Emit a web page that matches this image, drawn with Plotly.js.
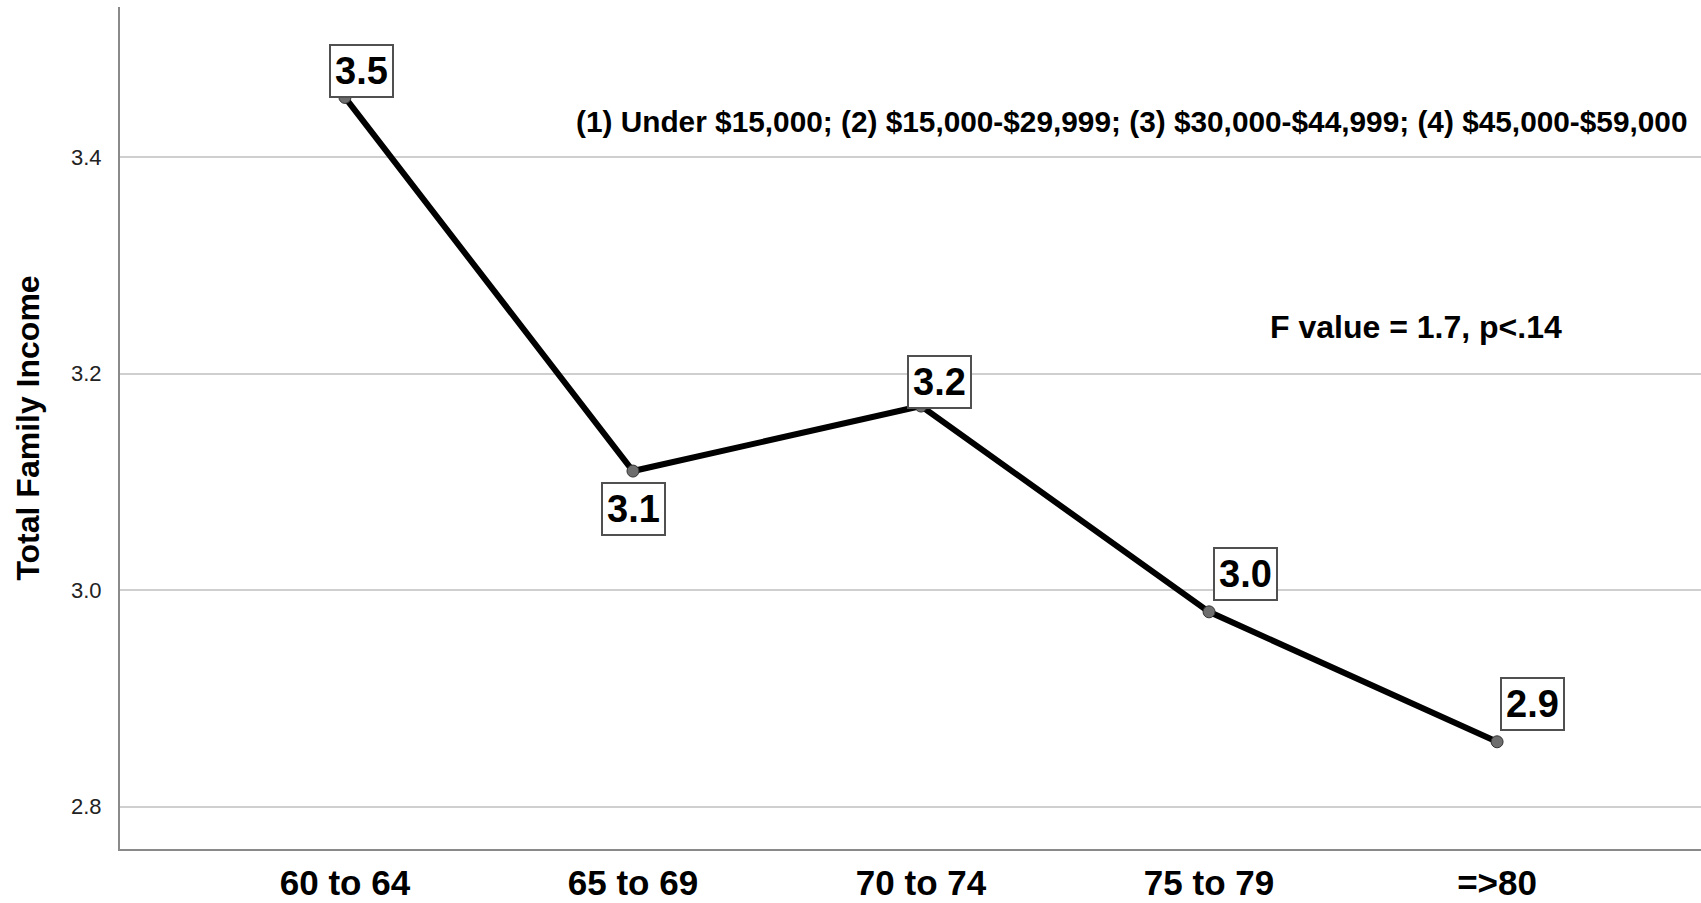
<!DOCTYPE html>
<html>
<head>
<meta charset="utf-8">
<script src="https://cdn.plot.ly/plotly-3.0.1.min.js"></script>
<style>
  html, body { margin: 0; padding: 0; background: #ffffff; }
  #chart { width: 1701px; height: 903px; }
</style>
</head>
<body>
<div id="chart"></div>
<script>
// ---- data ----
const ageGroups = ["60 to 64", "65 to 69", "70 to 74", "75 to 79", "=>80"];
const meanIncome = [3.455, 3.11, 3.17, 2.98, 2.86];
const yTickValues = [2.8, 3.0, 3.2, 3.4];
const yTitle = "Total Family Income";
const incomeKey = "(1) Under $15,000; (2) $15,000-$29,999; (3) $30,000-$44,999; (4) $45,000-$59,000";
const statNote = "F value = 1.7, p<.14";

// ---- label box offsets (pixels, layout only) ----
const labelShiftX = [17, 1, 18, 36, 35];
const labelShiftY = [26, -38, 24, 38, 38];

const FONT = "'Liberation Sans', Arial, Helvetica, sans-serif";

const trace = {
  type: "scatter",
  mode: "lines+markers",
  x: ageGroups,
  y: meanIncome,
  line: { color: "#000000", width: 6 },
  marker: { size: 12, color: "#6e6e6e", line: { color: "#333333", width: 1 } },
  hoverinfo: "x+y",
  showlegend: false
};

const valueLabels = ageGroups.map((g, i) => ({
  x: g,
  y: meanIncome[i],
  xref: "x",
  yref: "y",
  text: meanIncome[i].toFixed(1),
  showarrow: false,
  xanchor: "center",
  yanchor: "middle",
  xshift: labelShiftX[i],
  yshift: labelShiftY[i],
  font: { family: FONT, size: 38, color: "#000000", weight: "bold" },
  bgcolor: "#ffffff",
  bordercolor: "#505050",
  borderwidth: 2,
  borderpad: 4
}));

const notes = [
  {
    xref: "paper", yref: "paper",
    x: 0.9924, y: 0.8646,
    xanchor: "right", yanchor: "middle",
    text: "<b>" + incomeKey + "</b>",
    showarrow: false,
    font: { family: FONT, size: 29.8, color: "#000000" }
  },
  {
    xref: "paper", yref: "paper",
    x: 0.82, y: 0.62,
    xanchor: "center", yanchor: "middle",
    text: "<b>" + statNote + "</b>",
    showarrow: false,
    font: { family: FONT, size: 32, color: "#000000" }
  }
];

const layout = {
  width: 1701,
  height: 903,
  margin: { l: 120, r: 0, t: 7, b: 54, pad: 0 },
  paper_bgcolor: "#ffffff",
  plot_bgcolor: "#ffffff",
  font: { family: FONT, color: "#000000" },
  xaxis: {
    type: "category",
    range: [-0.781, 4.708],
    showgrid: false,
    zeroline: false,
    showline: true,
    linecolor: "#8a8a8a",
    linewidth: 2,
    ticks: "",
    ticklabelstandoff: 2,
    tickfont: { family: FONT, size: 35, color: "#000000", weight: "bold" },
    automargin: false,
    fixedrange: true
  },
  yaxis: {
    range: [2.761, 3.5385],
    tickvals: yTickValues,
    ticktext: yTickValues.map(v => v.toFixed(1)),
    showgrid: true,
    gridcolor: "#cfcfcf",
    gridwidth: 2,
    zeroline: false,
    showline: true,
    linecolor: "#8a8a8a",
    linewidth: 2,
    ticks: "",
    ticklabelstandoff: 12,
    tickfont: { family: FONT, size: 22, color: "#222222" },
    title: { text: yTitle, font: { family: FONT, size: 32, color: "#000000", weight: "bold" }, standoff: 22 },
    automargin: false,
    fixedrange: true
  },
  annotations: valueLabels.concat(notes),
  showlegend: false
};

Plotly.newPlot("chart", [trace], layout, { displayModeBar: false, staticPlot: true });
</script>
</body>
</html>
